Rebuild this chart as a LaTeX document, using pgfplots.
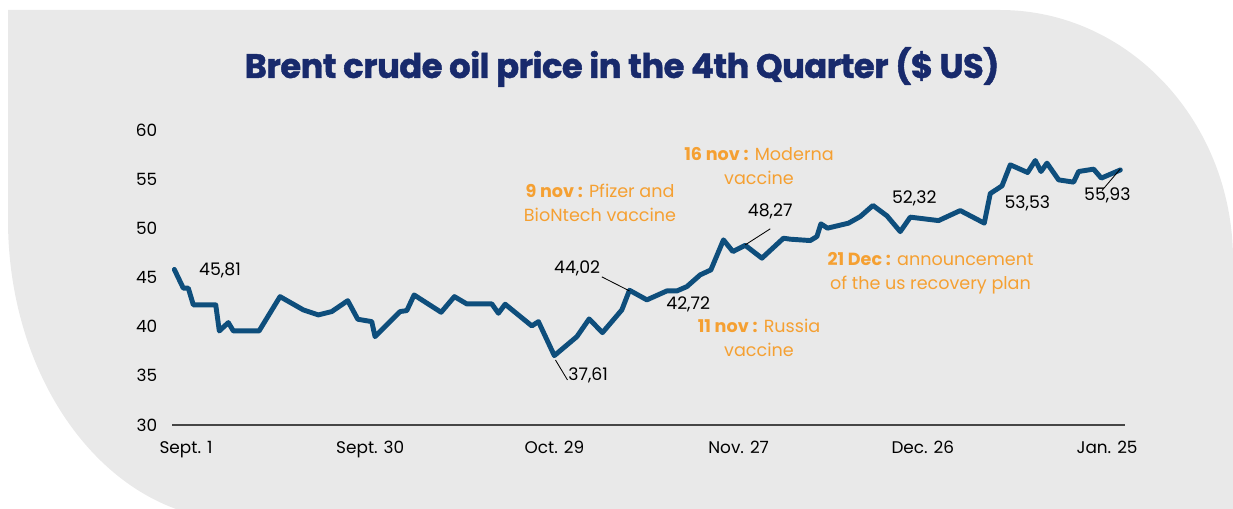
\documentclass[border=0pt]{standalone}
\usepackage{fontspec}
\setmainfont{Poppins}
\newfontfamily\titlefont{Poppins}[BoldFeatures={FakeBold=1.3}, LetterSpace=-1.5]
\usepackage{pgfplots}
\pgfplotsset{compat=1.18}
\definecolor{bggray}{RGB}{233,233,233}
\definecolor{lineblue}{RGB}{14,78,124}
\definecolor{titlenavy}{RGB}{24,42,108}
\definecolor{annorange}{RGB}{245,160,50}
\definecolor{axisgray}{RGB}{70,70,70}

\pgfplotstableread{
d v
-1.84 45.81
-0.43 43.91
0.36 43.91
1.15 42.21
4.68 42.21
5.24 39.56
6.66 40.41
7.45 39.56
11.50 39.56
14.80 43.05
18.47 41.70
20.83 41.19
22.94 41.53
25.46 42.64
27.04 40.75
29.24 40.51
29.76 38.98
33.70 41.53
34.76 41.63
35.91 43.22
40.16 41.46
42.25 43.05
44.20 42.31
48.14 42.31
49.18 41.36
50.24 42.28
54.44 40.07
55.48 40.51
57.98 37.05
61.53 38.98
63.46 40.78
65.56 39.39
68.61 41.70
69.81 43.70
72.55 42.72
75.70 43.63
77.28 43.63
78.85 44.07
80.94 45.26
82.63 45.77
84.61 48.82
86.09 47.63
88.03 48.27
90.66 46.96
94.06 48.99
95.12 48.89
98.27 48.75
99.32 49.16
99.95 50.45
100.99 50.01
104.30 50.52
106.14 51.19
108.14 52.32
110.35 51.26
112.44 49.66
114.02 51.13
118.47 50.78
121.89 51.80
125.67 50.52
126.61 53.53
128.46 54.31
129.76 56.45
132.49 55.67
133.70 56.89
134.60 55.77
135.54 56.62
137.37 54.92
139.73 54.69
140.52 55.77
142.88 56.01
144.09 55.10
147.09 55.93
}\brent

\begin{document}
\begin{tikzpicture}[x=0.025cm,y=0.025cm]
\useasboundingbox (0,0) rectangle (1233,508);
\clip (0,0) rectangle (1233,508);
\fill[bggray] (8,498) -- (1000,498)
  arc[start angle=90, end angle=0, x radius=233, y radius=250]
  -- (1233,-12) -- (238,-12)
  arc[start angle=270, end angle=180, x radius=230, y radius=300]
  -- cycle;

\node[font=\titlefont\bfseries\fontsize{24}{28}\selectfont, text=titlenavy] at (622,441)
  {Brent crude oil price in the 4th Quarter (\$ US)};

\begin{axis}[
  at={(4.3cm,2.075cm)}, anchor=south west,
  scale only axis, width=23.825cm, height=7.375cm,
  xmin=-2.2, xmax=147.87, ymin=30, ymax=60,
  axis x line*=bottom, axis y line*=left,
  x axis line style={draw=axisgray, line width=1.1pt, -},
  y axis line style={draw=none},
  major tick length=0pt,
  xtick={0,29,58,87,116,145},
  xticklabels={Sept. 1,Sept. 30,Oct. 29,Nov. 27,Dec. 26,Jan. 25},
  ytick={30,35,...,60},
  /pgf/number format/assume math mode=true,
  tick label style={font=\fontsize{12}{14}\selectfont, text=black},
  xticklabel style={yshift=-8pt},
  yticklabel style={xshift=-7pt},
  clip=false,
]
\addplot[color=lineblue, line width=3.5pt, line join=round, line cap=round] table[x=d, y=v] {\brent};

\draw[black, line width=0.6pt] (axis cs:65.46,45.06) -- (axis cs:69.81,43.63);
\draw[black, line width=0.6pt] (axis cs:58.16,36.61) -- (axis cs:60.05,34.58);
\draw[black, line width=0.6pt] (axis cs:91.97,49.94) -- (axis cs:88.03,48.31);
\draw[black, line width=0.6pt] (axis cs:144.2,53.84) -- (axis cs:147.09,56.04);

\begin{scope}[every node/.style={font=\fontsize{12.3}{14}\selectfont, text=black}]
\node at (axis cs:5.35,45.67) {45,81};
\node at (axis cs:61.57,45.92) {44,02};
\node at (axis cs:79.06,42.31) {42,72};
\node at (axis cs:63.31,35.09) {37,61};
\node at (axis cs:91.97,51.67) {48,27};
\node at (axis cs:114.65,53.03) {52,32};
\node at (axis cs:132.44,52.52) {53,53};
\node at (axis cs:145.04,53.33) {55,93};
\end{scope}
\end{axis}

\begin{scope}[every node/.style={font=\fontsize{12.5}{17}\selectfont, text=annorange, align=center}]
\node at (600,305) {\textbf{9 nov :} Pfizer and\\BioNtech vaccine};
\node at (759,342) {\textbf{16 nov :} Moderna\\vaccine};
\node at (930.5,235) {\textbf{21 Dec :} announcement\\of the us recovery plan};
\node at (759,170) {\textbf{11 nov :} Russia\\vaccine};
\end{scope}
\end{tikzpicture}
\end{document}
